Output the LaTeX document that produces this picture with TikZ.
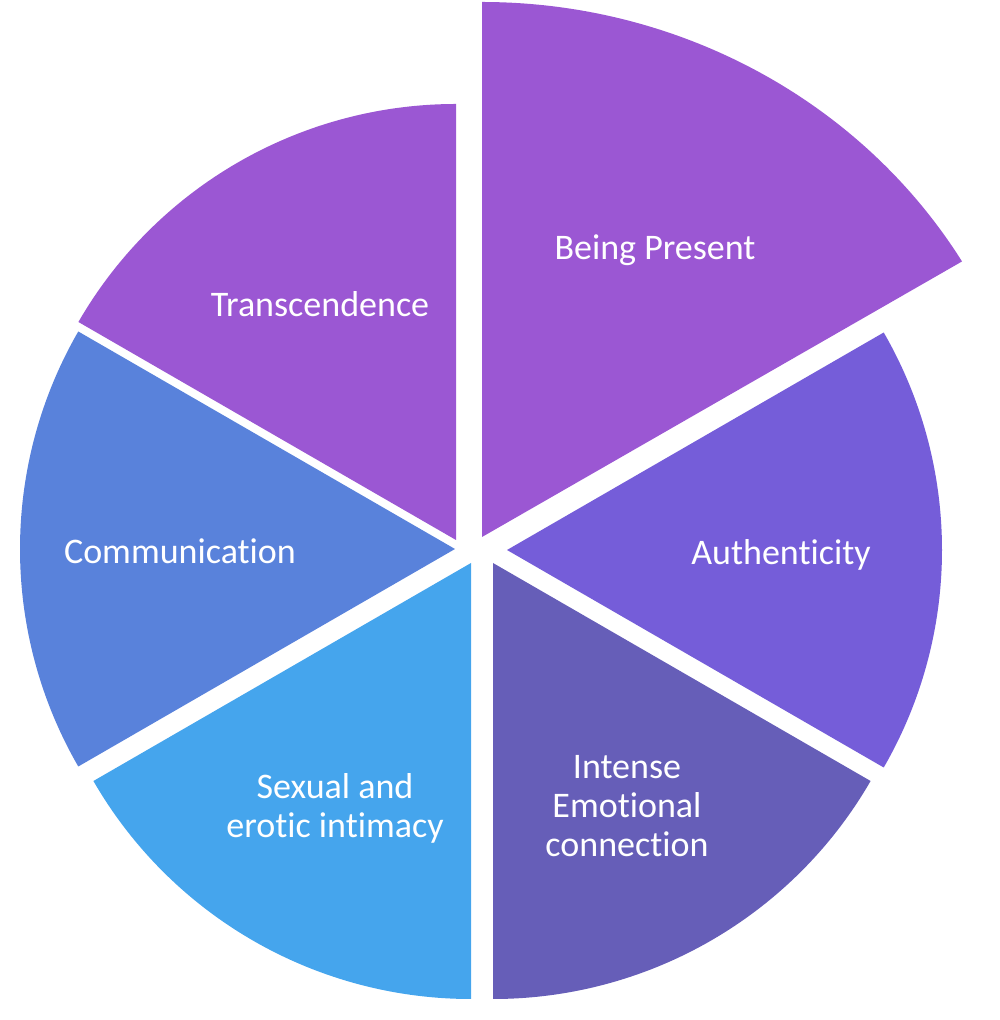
\documentclass[tikz,border=0pt]{standalone}
\usepackage{fontspec}
\setmainfont{Carlito}[Ligatures=NoCommon]
\definecolor{violetA}{HTML}{9B57D3}
\definecolor{violetB}{HTML}{755DD9}
\definecolor{violetC}{HTML}{665EB8}
\definecolor{skyA}{HTML}{45A5ED}
\definecolor{blueA}{HTML}{5982DB}
\tikzset{lbl/.style={text=white,font=\fontsize{36}{39}\selectfont,align=center}}
\begin{document}
\begin{tikzpicture}[x=1pt,y=1pt]
\useasboundingbox (0,0) rectangle (1000,1020);
% exploded slice
\fill[violetA] (482,483) -- ++(90:535) arc[start angle=90,end angle=31,x radius=560,y radius=535] -- cycle;
% the other slices: apex x/y, start angle, radius, colour
\foreach \ax/\ay/\s/\r/\c in {456/480/90/436/violetA, 455/471/150/435/blueA, 471/457/210/436/skyA, 493/457/270/436/violetC, 507/470/330/435/violetB}
  \fill[\c] (\ax,\ay) -- ++(\s:\r) arc[start angle=\s,end angle=\s+60,radius=\r] -- cycle;
\node[lbl] (present) at (655,770) {Being Present};
\node[lbl] (trans) at (320,716) {Transcendence};
\node[lbl] (auth) at (781,465) {Authenticity};
\node[lbl] (comm) at (180,469) {Communication};
\node[lbl] (sexual) at (335,212) {Sexual and\\erotic intimacy};
\node[lbl] (intense) at (627,214) {Intense\\Emotional\\connection};
\end{tikzpicture}
\end{document}
